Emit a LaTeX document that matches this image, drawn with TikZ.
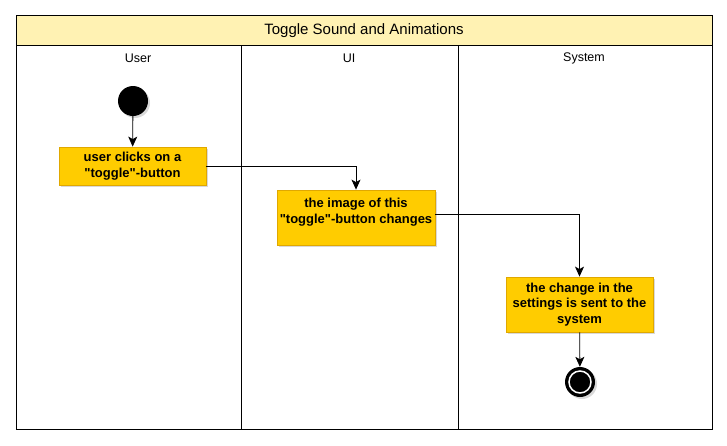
\documentclass[tikz,border=0pt]{standalone}
\usepackage{fontspec}
\newfontfamily\lsans{Liberation Sans}
\usetikzlibrary{arrows.meta,shadows}
\definecolor{hdr}{HTML}{FFF2B3}
\definecolor{actfill}{HTML}{FFCC00}
\definecolor{actline}{HTML}{E0A800}
\tikzset{
  actbox/.style={draw=actline, fill=actfill, line width=0.8pt, align=center,
    font=\lsans\fontsize{13}{15.5}\selectfont\bfseries, inner sep=0pt,
    drop shadow={shadow xshift=2pt, shadow yshift=-2pt, opacity=0.3}},
  acttext/.style={align=center, font=\lsans\fontsize{13}{16}\selectfont\bfseries, inner sep=0pt},
  flow/.style={draw=black, line width=0.8pt, -{Stealth[length=10pt,width=9pt,inset=2.5pt]}},
  lane/.style={draw=black, line width=0.8pt},
  lanelabel/.style={font=\lsans\fontsize{12.5}{14}\selectfont}
}
\begin{document}
\lsans
\begin{tikzpicture}[x=1pt,y=-1pt]
\useasboundingbox (0,0) rectangle (727,445);
% header band
\fill[hdr] (16,15) rectangle (712,45);
\draw[lane] (16,15) rectangle (712,429);
\draw[lane] (16,45) -- (712,45);
\draw[lane] (241,45) -- (241,429);
\draw[lane] (458,45) -- (458,429);
\node[font=\lsans\fontsize{15}{17}\selectfont] (title) at (364,31) {Toggle Sound and Animations};
\node[lanelabel] (luser) at (138,58) {User};
\node[lanelabel] (lui) at (349,58) {UI};
\node[lanelabel] (lsys) at (584,58) {System};
% start
\node[circle, fill=black, minimum size=30pt, inner sep=0pt,
  drop shadow={shadow xshift=2pt, shadow yshift=-2pt, opacity=0.3}] (start) at (133,101) {};
% activities
\node[actbox, minimum width=147pt, minimum height=38pt] (a1) at (132.5,166) {user clicks on a\\"toggle"-button};
\node[actbox, minimum width=158pt, minimum height=55pt] (a2) at (356,217.5) {};
\node[acttext] (a2t) at (356,212) {the image of this\\"toggle"-button changes};
\node[actbox, minimum width=147pt, minimum height=55pt] (a3) at (579.5,304.5) {the change in the\\settings is sent to the\\system};
% end
\node[circle, fill=black, minimum size=30pt, inner sep=0pt,
  drop shadow={shadow xshift=2pt, shadow yshift=-2pt, opacity=0.3}] (end) at (580,382) {};
\node[circle, draw=white, line width=1.5pt, minimum size=22pt, inner sep=0pt] (endring) at (end.center) {};
% flows
\draw[flow] (start) -- (a1);
\draw[flow] (a1.east) -| (a2.north);
\draw[flow] ([yshift=3pt]a2.east) -| (a3.north);
\draw[flow] (a3) -- (end);
\end{tikzpicture}
\end{document}
